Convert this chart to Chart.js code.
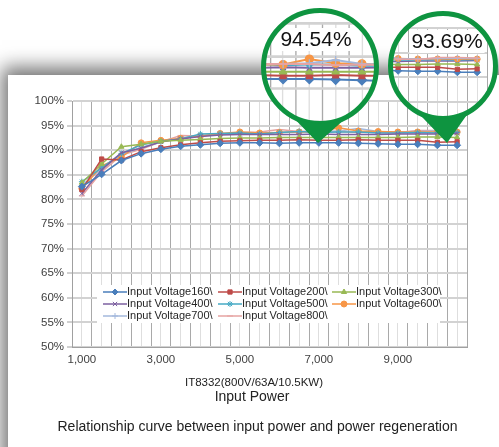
<!DOCTYPE html>
<html>
<head>
<meta charset="utf-8">
<script src="https://cdn.jsdelivr.net/npm/chart.js@4.4.1/dist/chart.umd.min.js"></script>
<style>
  html, body { margin: 0; padding: 0; background: #fff; overflow: hidden; }
  #wrap { position: relative; width: 499px; height: 447px; overflow: hidden; }
  #card { position: absolute; left: 8px; top: 75px; width: 540px; height: 420px; background: #fff;
          box-shadow: -4px -6px 18px 2px rgba(0, 0, 0, 0.55); }
  #chart { position: absolute; left: 0; top: 0; }
</style>
</head>
<body>
<div id="wrap">
  <div id="card"></div>
  <canvas id="chart" width="499" height="447"></canvas>
</div>
<script>
// Input power (W) on the x axis
const inputPower = [1000, 1500, 2000, 2500, 3000, 3500, 4000, 4500, 5000, 5500,
                    6000, 6500, 7000, 7500, 8000, 8500, 9000, 9500, 10000, 10500];

// Efficiency (%) per input voltage
const v160 = [82.6, 85.1, 87.9, 89.3, 90.2, 90.8, 91.1, 91.4, 91.5, 91.5, 91.4, 91.5, 91.5, 91.5, 91.4, 91.3, 91.2, 91.2, 91.0, 91.0];
const v200 = [82.0, 88.2, 88.0, 89.7, 90.5, 91.1, 91.5, 91.8, 91.9, 92.0, 92.0, 92.1, 92.0, 92.0, 92.1, 92.0, 92.0, 92.0, 91.6, 91.7];
const v300 = [83.4, 87.2, 90.7, 91.2, 91.8, 92.0, 92.2, 92.4, 92.5, 92.5, 92.6, 92.6, 92.6, 92.6, 92.6, 92.6, 92.6, 92.7, 92.7, 92.6];
const v400 = [81.2, 86.0, 89.5, 90.4, 91.7, 92.3, 92.8, 93.1, 93.2, 93.2, 93.2, 93.2, 93.3, 93.2, 93.2, 93.2, 93.3, 93.3, 93.3, 93.4];
const v500 = [83.6, 86.4, 89.3, 91.1, 91.8, 92.3, 93.3, 93.4, 93.5, 93.3, 93.6, 93.8, 93.6, 93.7, 93.7, 93.5, 93.5, 93.6, 93.5, 93.6];
const v600 = [82.2, 86.8, 88.6, 91.5, 92.0, 92.4, 92.9, 93.4, 93.7, 93.5, 93.6, 93.7, 93.7, 94.54, 93.9, 93.8, 93.7, 93.7, 93.7, 93.69];
const v700 = [82.8, 86.3, 89.0, 90.6, 91.6, 92.5, 92.9, 93.3, 93.5, 93.5, 93.6, 93.8, 93.8, 93.9, 94.4, 93.8, 93.7, 93.8, 93.9, 93.8];
const v800 = [80.7, 85.6, 89.0, 90.2, 91.7, 93.0, 92.9, 93.2, 93.6, 93.7, 94.2, 93.8, 93.8, 93.8, 93.6, 93.7, 93.6, 94.0, 94.0, 93.9];

const seriesLabels = ['Input Voltage160\\', 'Input Voltage200\\', 'Input Voltage300\\', 'Input Voltage400\\',
                      'Input Voltage500\\', 'Input Voltage600\\', 'Input Voltage700\\', 'Input Voltage800\\'];
const seriesValues = [v160, v200, v300, v400, v500, v600, v700, v800];

// y axis tick range
const yMin = 50, yMax = 100, yStep = 5;

// values called out in the two green bubbles
const calloutValues = [94.54, 93.69];

const xTitle = 'IT8332(800V/63A/10.5KW)';
const xSubTitle = 'Input Power';
const caption = 'Relationship curve between input power and power regeneration';

// styling
const colors = ['#4a7ebb', '#be4b48', '#98b954', '#7d60a0', '#46aac5', '#f79646', '#a3b8dc', '#e6a3a2'];
const markers = ['rectRot', 'rect', 'triangle', 'crossRot', 'star', 'circle', 'cross', 'line'];
const FONT = '"Liberation Sans", Arial, sans-serif';

const datasets = seriesValues.map((vals, i) => ({
    label: seriesLabels[i],
    data: inputPower.map((p, j) => ({ x: p, y: vals[j] })),
    borderColor: colors[i],
    backgroundColor: colors[i],
    pointBackgroundColor: colors[i],
    pointBorderColor: colors[i],
    pointStyle: markers[i],
    pointRadius: i === 0 ? 3.5 : 3,
    pointBorderWidth: 1,
    borderWidth: 1.5,
    tension: 0
}));

// legend drawn inside the plot area, three columns
const legendBox = { x: 97, y: 285, w: 343, h: 38 };
const legendCols = [103, 218, 332];
const legendRows = [292, 304, 316];

const insideLegend = {
    id: 'insideLegend',
    afterDatasetsDraw(chart) {
        const ctx = chart.ctx;
        ctx.save();
        ctx.fillStyle = '#fff';
        ctx.fillRect(legendBox.x, legendBox.y, legendBox.w, legendBox.h);
        ctx.font = '11px ' + FONT;
        ctx.textBaseline = 'middle';
        chart.data.datasets.forEach((ds, i) => {
            const x = legendCols[i % 3], y = legendRows[Math.floor(i / 3)];
            ctx.strokeStyle = ds.borderColor;
            ctx.fillStyle = ds.borderColor;
            ctx.lineWidth = 1.5;
            ctx.beginPath();
            ctx.moveTo(x, y);
            ctx.lineTo(x + 24, y);
            ctx.stroke();
            if (Chart.helpers && Chart.helpers.drawPoint) {
                ctx.lineWidth = 1;
                Chart.helpers.drawPoint(ctx, { pointStyle: ds.pointStyle, rotation: 0, radius: 3, borderWidth: 1 }, x + 12, y);
            }
            ctx.fillStyle = '#262626';
            ctx.fillText(ds.label, x + 24, y);
        });
        ctx.restore();
    }
};

const axisTexts = {
    id: 'axisTexts',
    afterDraw(chart) {
        const ctx = chart.ctx;
        ctx.save();
        ctx.fillStyle = '#222';
        ctx.textAlign = 'center';
        ctx.textBaseline = 'middle';
        ctx.font = '11.5px ' + FONT;
        ctx.fillText(xTitle, 254, 383);
        ctx.font = '14px ' + FONT;
        ctx.fillText(xSubTitle, 252, 397);
        ctx.font = '14px ' + FONT;
        ctx.fillText(caption, 257.5, 427);
        ctx.restore();
    }
};

// magnifier bubbles: redraw grid and lines zoomed in, then the green ring
const bubbles = [
    { cx: 320, cy: 67, r: 56.5, tipX: 318, tipY: 143, m: 1.33, ax: -141, ay: -111, lx: 316, ly: 40 },
    { cx: 443, cy: 66, r: 52.5, tipX: 447, tipY: 143, m: 1.0, ax: 20, ay: -73, lx: 447, ly: 42 }
];

const magnifier = {
    id: 'magnifier',
    afterDraw(chart) {
        const ctx = chart.ctx;
        bubbles.forEach((b, k) => {
            ctx.save();
            ctx.beginPath();
            ctx.arc(b.cx, b.cy, b.r, 0, Math.PI * 2);
            ctx.clip();
            ctx.fillStyle = '#fff';
            ctx.fillRect(b.cx - b.r, b.cy - b.r, b.r * 2, b.r * 2);
            ctx.save();
            ctx.translate(b.ax, b.ay);
            ctx.scale(b.m, b.m);
            chart.scales.x.drawGrid(chart.chartArea);
            chart.scales.y.drawGrid(chart.chartArea);
            chart.getSortedVisibleDatasetMetas().forEach(meta => meta.controller.draw());
            ctx.restore();

            const label = calloutValues[k].toFixed(2) + '%';
            ctx.font = '21px ' + FONT;
            const w = ctx.measureText(label).width;
            ctx.fillStyle = '#fff';
            ctx.fillRect(b.lx - w / 2 - 2, b.ly - 12, w + 4, 23);
            ctx.fillStyle = '#111';
            ctx.textAlign = 'center';
            ctx.textBaseline = 'middle';
            ctx.fillText(label, b.lx, b.ly);
            ctx.restore();

            // ring + pointer
            ctx.save();
            ctx.strokeStyle = '#0e9440';
            ctx.fillStyle = '#0e9440';
            ctx.lineWidth = 5;
            ctx.beginPath();
            ctx.arc(b.cx, b.cy, b.r, 0, Math.PI * 2);
            ctx.stroke();
            const a1 = Math.PI / 2 - Math.PI / 6, a2 = Math.PI / 2 + Math.PI / 6;
            ctx.beginPath();
            ctx.moveTo(b.cx + b.r * Math.cos(a1), b.cy + b.r * Math.sin(a1));
            ctx.lineTo(b.tipX, b.tipY);
            ctx.lineTo(b.cx + b.r * Math.cos(a2), b.cy + b.r * Math.sin(a2));
            ctx.arc(b.cx, b.cy, b.r, a2, a1, true);
            ctx.closePath();
            ctx.fill();
            ctx.restore();
        });
    }
};

function fmtThousands(v) {
    return String(v).replace(/\B(?=(\d{3})+(?!\d))/g, ',');
}

new Chart(document.getElementById('chart').getContext('2d'), {
    type: 'line',
    data: { datasets: datasets },
    options: {
        responsive: false,
        animation: false,
        events: [],
        layout: { padding: { left: 0, top: 101, right: 32, bottom: 0 } },
        plugins: { legend: { display: false }, tooltip: { enabled: false } },
        scales: {
            x: {
                type: 'linear',
                min: 750,
                max: 10750,
                afterBuildTicks(scale) {
                    const t = [];
                    for (let v = 750; v <= 10750; v += 250) t.push({ value: v });
                    scale.ticks = t;
                },
                afterFit(scale) { scale.height = 100; },
                grid: {
                    drawTicks: false,
                    color: (c) => (c.tick && (c.tick.value - 750) % 500 === 0) ? '#a9a9a9' : '#dedede',
                    lineWidth: 1
                },
                border: { color: '#a0a0a0' },
                ticks: {
                    autoSkip: false,
                    maxRotation: 0,
                    padding: 6,
                    color: '#404040',
                    font: { family: FONT, size: 11.5 },
                    callback: (v) => ((v - 1000) % 2000 === 0 ? fmtThousands(v) : '')
                }
            },
            y: {
                min: yMin,
                max: yMax,
                ticks: {
                    stepSize: yStep,
                    padding: 3,
                    color: '#404040',
                    font: { family: FONT, size: 11.5 },
                    callback: (v) => v + '%'
                },
                afterFit(scale) { scale.width = 72; },
                grid: { color: '#d2d2d2', lineWidth: 2, tickLength: 5, tickColor: '#a0a0a0', tickWidth: 1 },
                border: { color: '#a0a0a0' }
            }
        }
    },
    plugins: [insideLegend, axisTexts, magnifier]
});
</script>
</body>
</html>
